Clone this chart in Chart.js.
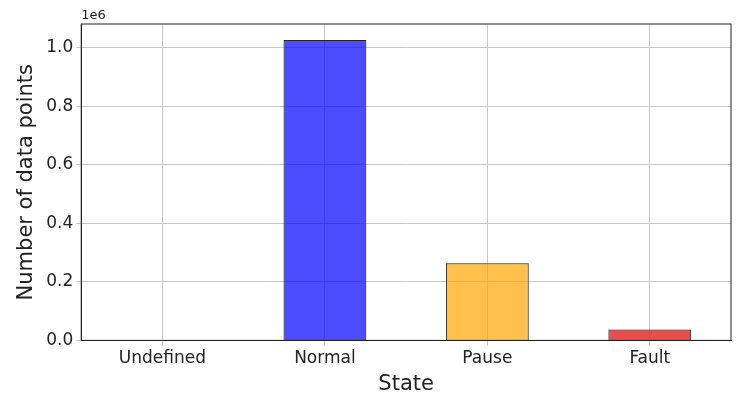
<!DOCTYPE html>
<html><head>
<script src="https://cdn.jsdelivr.net/npm/chart.js@4"></script>
<style>body{margin:0;background:#fff}#wrap{width:742px;height:409px}</style>
</head><body>
<div id="wrap"><canvas id="c"></canvas></div>
<script>
const states = ['Undefined', 'Normal', 'Pause', 'Fault'];
const counts = [0.001, 1.027, 0.264, 0.037];
const barColors = ['rgba(128,128,128,0.7)', 'rgba(0,0,255,0.7)', 'rgba(255,165,0,0.7)', 'rgba(230,0,0,0.7)'];

const expLabel = {
  id: 'expLabel',
  afterDraw(chart) {
    const { ctx, chartArea } = chart;
    ctx.save();
    ctx.strokeStyle = '#222';
    ctx.lineWidth = 1;
    ctx.strokeRect(chartArea.left, chartArea.top, chartArea.right - chartArea.left, chartArea.bottom - chartArea.top);
    ctx.font = '13px "DejaVu Sans"';
    ctx.fillStyle = '#222';
    ctx.textBaseline = 'bottom';
    ctx.fillText('1e6', chartArea.left, chartArea.top - 2);
    ctx.restore();
  }
};

new Chart(document.getElementById('c'), {
  type: 'bar',
  data: {
    labels: states,
    datasets: [{
      data: counts,
      backgroundColor: barColors,
      borderColor: '#222',
      borderWidth: 1,
      barPercentage: 0.51,
      categoryPercentage: 1
    }]
  },
  options: {
    responsive: true,
    maintainAspectRatio: false,
    animation: false,
    layout: { padding: { top: 24, right: 11, left: 10, bottom: 12 } },
    plugins: { legend: { display: false }, tooltip: { enabled: false } },
    scales: {
      x: {
        grid: { color: '#c8c8c8', offset: false, tickLength: 5 },
        border: { color: '#222' },
        ticks: { color: '#222', font: { family: 'DejaVu Sans', size: 17 } },
        title: { display: true, text: 'State', color: '#222', font: { family: 'DejaVu Sans', size: 21 }, padding: 0 }
      },
      y: {
        min: 0, max: 1.082,
        afterBuildTicks(axis) { axis.ticks = [0, 0.2, 0.4, 0.6, 0.8, 1.0].map(v => ({ value: v })); },
        grid: { color: '#c8c8c8', tickLength: 5 },
        border: { color: '#222' },
        ticks: { color: '#222', font: { family: 'DejaVu Sans', size: 17 }, callback: v => v.toFixed(1) },
        title: { display: true, text: 'Number of data points', color: '#222', font: { family: 'DejaVu Sans', size: 21 }, padding: 4 }
      }
    }
  },
  plugins: [expLabel]
});
</script>
</body></html>
